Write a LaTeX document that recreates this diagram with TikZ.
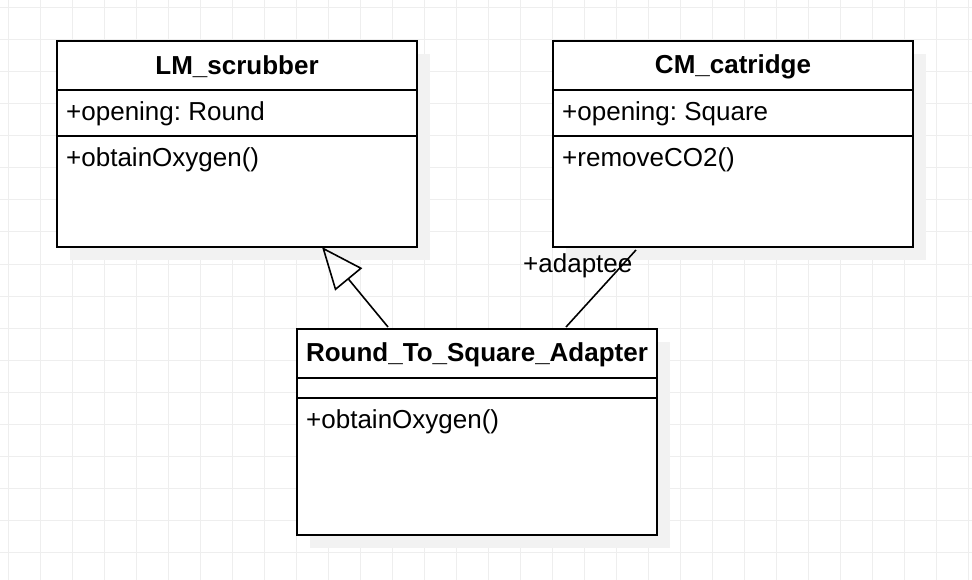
\documentclass[tikz,border=0pt]{standalone}
\usepackage{fontspec}
\setmainfont{Liberation Sans}
\usetikzlibrary{arrows.meta,calc}
\definecolor{gridc}{HTML}{EEEEEE}
\definecolor{shadowc}{HTML}{F2F2F2}
\tikzset{
  classbox/.style={draw=black, line width=2pt, fill=white, rectangle, inner sep=0pt,
    minimum width=360pt, minimum height=206pt, anchor=north west},
  sepline/.style={draw=black, line width=2pt},
  titletext/.style={font=\fontsize{26}{30}\selectfont\bfseries, inner sep=0pt},
  membertext/.style={font=\fontsize{26}{30}\selectfont\frenchspacing, inner sep=0pt, anchor=west},
  conn/.style={draw=black, line width=1.6pt},
}
\begin{document}
\frenchspacing
\begin{tikzpicture}[x=1pt,y=-1pt]
\useasboundingbox (0,0) rectangle (972,580);
\fill[white] (0,0) rectangle (972,580);
% grid
\foreach \i in {0,...,30} {\draw[gridc, line width=1pt] (8+32*\i,0) -- (8+32*\i,580);}
\foreach \j in {0,...,18} {\draw[gridc, line width=1pt] (0,8+32*\j) -- (972,8+32*\j);}
% shadows
\fill[shadowc] (70,54) rectangle (430,260);
\fill[shadowc] (566,54) rectangle (926,260);
\fill[shadowc] (310,342) rectangle (670,548);
% classes
\node[classbox] (lm) at (56,40) {};
\node[classbox] (cm) at (552,40) {};
\node[classbox] (ad) at (296,328) {};
% compartments
\draw[sepline] ($(lm.north west)+(0,50)$) -- ($(lm.north east)+(0,50)$);
\draw[sepline] ($(lm.north west)+(0,96)$) -- ($(lm.north east)+(0,96)$);
\draw[sepline] ($(cm.north west)+(0,50)$) -- ($(cm.north east)+(0,50)$);
\draw[sepline] ($(cm.north west)+(0,96)$) -- ($(cm.north east)+(0,96)$);
\draw[sepline] ($(ad.north west)+(0,50)$) -- ($(ad.north east)+(0,50)$);
\draw[sepline] ($(ad.north west)+(0,70)$) -- ($(ad.north east)+(0,70)$);
% texts
\node[titletext] (lmt) at ($(lm.north)+(0,27)$) {LM\_scrubber};
\node[membertext] (lma) at ($(lm.north west)+(10,73.5)$) {+opening: Round};
\node[membertext] (lmm) at ($(lm.north west)+(10,119.5)$) {+obtainOxygen()};
\node[titletext] (cmt) at ($(cm.north)+(0,27)$) {CM\_catridge};
\node[membertext] (cma) at ($(cm.north west)+(10,73.5)$) {+opening: Square};
\node[membertext] (cmm) at ($(cm.north west)+(10,119.5)$) {+removeCO2()};
\node[titletext] (adt) at ($(ad.north)+(0,27)$) {Round\_To\_Square\_Adapter};
\node[membertext] (adm) at ($(ad.north west)+(10,93.5)$) {+obtainOxygen()};
% connectors
\draw[conn, -{Triangle[open, length=42pt, width=35pt, line width=1.6pt]}]
  ($(ad.north west)+(92,-1)$) -- ($(lm.south west)+(266,-1)$);
\draw[conn] ($(ad.north west)+(270,-1)$) -- ($(cm.south west)+(84,2)$);
\node[membertext] (adlabel) at (523,265.5) {+adaptee};
\end{tikzpicture}
\end{document}
